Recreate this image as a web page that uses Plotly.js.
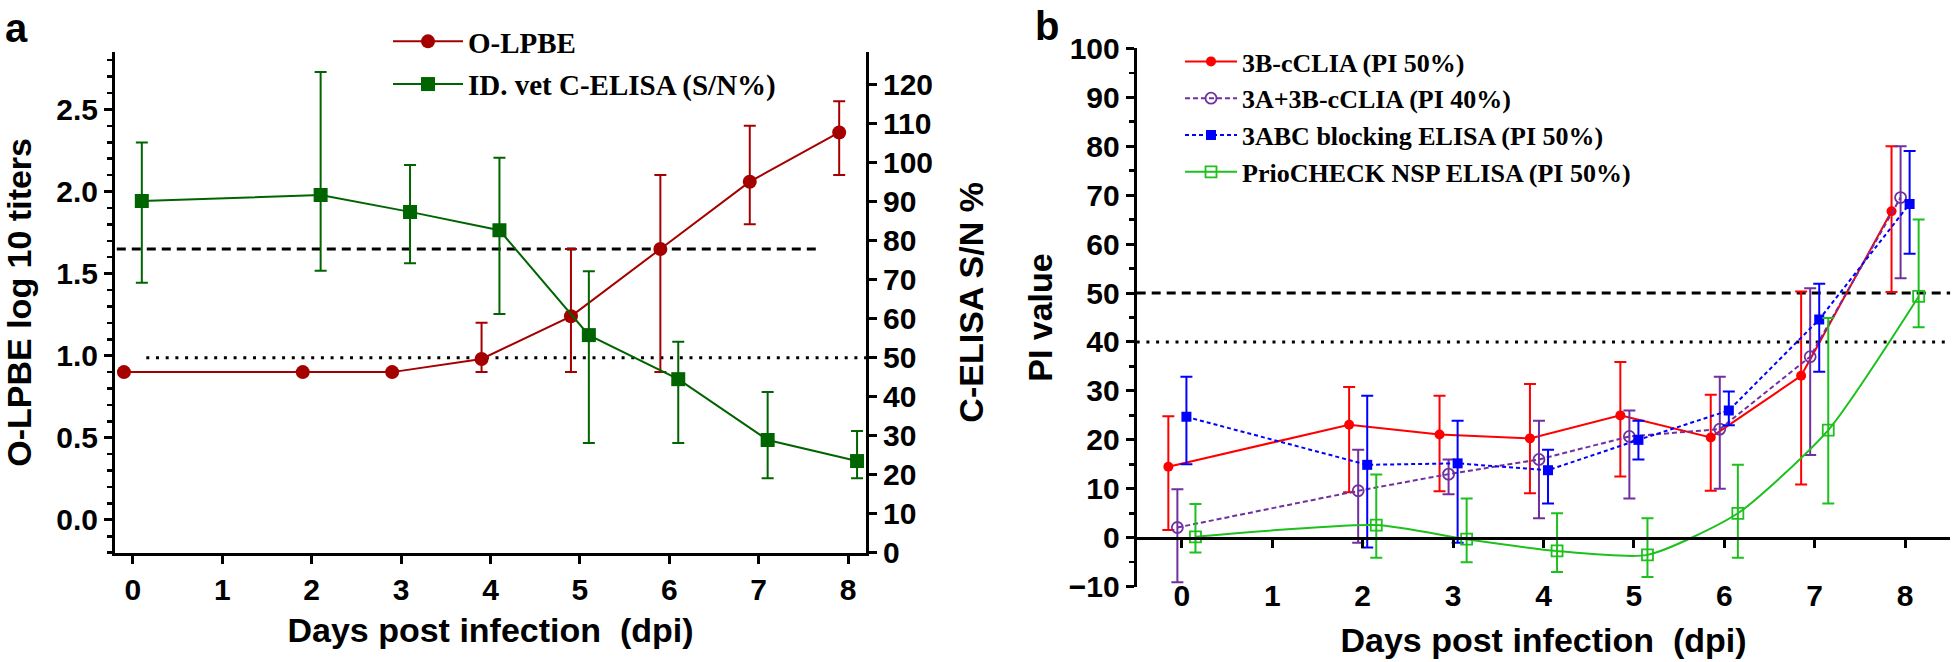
<!DOCTYPE html>
<html>
<head>
<meta charset="utf-8">
<script src="https://cdn.plot.ly/plotly-3.0.1.min.js"></script>
<style>html,body{margin:0;padding:0;background:#fff;}#chart{width:1960px;height:662px;}</style>
</head>
<body>
<div id="chart"></div>
<script>
// ---------- Data: panel a ----------
const daysA = [0, 2, 3, 4, 5, 6, 7, 8];
const lpbeMean = [0.90, 0.90, 0.90, 0.98, 1.24, 1.65, 2.06, 2.36];
const lpbeHigh = [0.90, 0.90, 0.90, 1.20, 1.65, 2.10, 2.40, 2.55];
const lpbeLow  = [0.90, 0.90, 0.90, 0.90, 0.90, 0.90, 1.80, 2.10];
const elisaMean = [90.2, 91.7, 87.4, 82.7, 55.8, 44.5, 28.9, 23.5];
const elisaHigh = [105.2, 123.3, 99.4, 101.3, 72.2, 54.1, 41.2, 31.2];
const elisaLow  = [69.2, 72.3, 74.2, 61.2, 28.1, 28.1, 19.1, 19.1];
const lpbeCutoff = 1.65;     // dashed, left axis
const elisaCutoff = 50;      // dotted, right axis
const seriesNamesA = ["O-LPBE", "ID. vet C-ELISA (S/N%)"];

// ---------- Data: panel b ----------
const daysB = [0, 2, 3, 4, 5, 6, 7, 8];
const seriesNamesB = ["3B-cCLIA (PI 50%)", "3A+3B-cCLIA (PI 40%)", "3ABC blocking ELISA (PI 50%)", "PrioCHECK NSP ELISA (PI 50%)"];
const clia3BMean = [14.5, 23.1, 21.1, 20.3, 25.0, 20.5, 33.1, 66.7];
const clia3BHigh = [24.8, 30.8, 29.0, 31.4, 35.9, 29.2, 50.3, 80.0];
const clia3BLow  = [1.6, 9.3, 9.5, 9.1, 12.5, 9.6, 10.9, 50.2];
const clia3ABMean = [2.1, 9.6, 13.0, 16.0, 20.7, 22.2, 37.0, 69.5];
const clia3ABHigh = [9.9, 18.0, 16.0, 23.9, 26.0, 32.9, 51.0, 80.0];
const clia3ABLow  = [-9.1, -1.0, 8.9, 4.0, 8.0, 10.0, 16.9, 53.0];
const abcMean = [24.7, 14.9, 15.2, 13.8, 20.0, 26.0, 44.6, 68.2];
const abcHigh = [32.9, 29.0, 23.9, 18.0, 23.9, 29.9, 51.9, 79.0];
const abcLow  = [15.0, -2.0, -1.0, 7.0, 16.0, 23.0, 33.9, 58.0];
const prioMean = [0.2, 2.6, -0.3, -2.7, -3.5, 5.0, 22.0, 49.3];
const prioHigh = [6.9, 12.9, 8.0, 5.0, 4.0, 14.9, 44.9, 65.0];
const prioLow  = [-3.0, -4.1, -5.0, -7.0, -8.0, -4.1, 7.0, 43.0];
const piCutoff50 = 50;
const piCutoff40 = 40;
const xTickVals = [0, 1, 2, 3, 4, 5, 6, 7, 8];

// ---------- helpers ----------
const W = 1960, H = 662;
const px = v => v / W;
const py = v => 1 - v / H;
const shift = (arr, d) => arr.map(v => v + d);
const plus = (hi, m) => hi.map((v, i) => +(v - m[i]).toFixed(3));
const minus = (lo, m) => lo.map((v, i) => +(m[i] - v).toFixed(3));
const SANS = "Liberation Sans, Arial, sans-serif";
const SERIF = "Liberation Serif, Times New Roman, serif";
const tickFont = {family: SANS, size: 30, color: "#000", weight: "bold"};
const titleFont = {family: SANS, size: 34, color: "#000", weight: "bold"};

function errTrace(name, x, m, hi, lo, color, opts) {
  return Object.assign({
    type: "scatter", mode: "lines+markers", name: name, x: x, y: m,
    line: {color: color, width: 2},
    error_y: {type: "data", symmetric: false, array: plus(hi, m), arrayminus: minus(lo, m),
              color: color, thickness: 2, width: 6},
  }, opts);
}

const RED_A = "#A50000", GREEN_A = "#006400";
const RED_B = "#FF0000", PURPLE_B = "#7030A0", BLUE_B = "#0000FF", GREEN_B = "#1DC01D";

const traces = [
  errTrace(seriesNamesA[0], shift(daysA, -0.1), lpbeMean, lpbeHigh, lpbeLow, RED_A,
    {xaxis: "x", yaxis: "y", marker: {symbol: "circle", size: 14, color: RED_A}, legend: "legend", legendgroup: "a1"}),
  errTrace(seriesNamesA[1], shift(daysA, 0.1), elisaMean, elisaHigh, elisaLow, GREEN_A,
    {xaxis: "x", yaxis: "y2", marker: {symbol: "square", size: 14, color: GREEN_A}, legend: "legend", legendgroup: "a2"}),
  errTrace(seriesNamesB[0], shift(daysB, -0.15), clia3BMean, clia3BHigh, clia3BLow, RED_B,
    {xaxis: "x2", yaxis: "y3", marker: {symbol: "circle", size: 10, color: RED_B}, legend: "legend2", legendgroup: "b1"}),
  errTrace(seriesNamesB[1], shift(daysB, -0.05), clia3ABMean, clia3ABHigh, clia3ABLow, PURPLE_B,
    {xaxis: "x2", yaxis: "y3", marker: {symbol: "circle-open", size: 11, color: PURPLE_B, line: {width: 1.8}},
     line: {color: PURPLE_B, width: 2, dash: "5px,3px"}, legend: "legend2", legendgroup: "b2"}),
  errTrace(seriesNamesB[2], shift(daysB, 0.05), abcMean, abcHigh, abcLow, BLUE_B,
    {xaxis: "x2", yaxis: "y3", marker: {symbol: "square", size: 10, color: BLUE_B},
     line: {color: BLUE_B, width: 2, dash: "4px,3px"}, legend: "legend2", legendgroup: "b3"}),
  errTrace(seriesNamesB[3], shift(daysB, 0.15), prioMean, prioHigh, prioLow, GREEN_B,
    {xaxis: "x2", yaxis: "y3", marker: {symbol: "square-open", size: 11, color: GREEN_B, line: {width: 1.8}},
     line: {color: GREEN_B, width: 2, shape: "spline", smoothing: 0.6}, legend: "legend2", legendgroup: "b4"}),
];

const axisBase = {showline: true, linecolor: "#000", linewidth: 3, ticks: "outside", ticklen: 8, tickwidth: 3,
  tickcolor: "#000", showgrid: false, zeroline: false, tickfont: tickFont, automargin: false, fixedrange: true};

const layout = {
  width: W, height: H, autosize: false,
  margin: {l: 0, r: 0, t: 0, b: 0},
  paper_bgcolor: "#fff", plot_bgcolor: "#fff",
  showlegend: true,
  xaxis: Object.assign({}, axisBase, {
    domain: [px(115), px(866)], range: [-0.2, 8.2], anchor: "y", tickvals: xTickVals,
    title: {text: "Days post infection \u00a0(dpi)", font: titleFont, standoff: 14}
  }),
  yaxis: Object.assign({}, axisBase, {
    domain: [py(552.7), py(52)], range: [-0.2, 2.85], anchor: "x",
    tickvals: [0, 0.5, 1.0, 1.5, 2.0, 2.5], ticktext: ["0.0", "0.5", "1.0", "1.5", "2.0", "2.5"],
    minor: {dtick: 0.1, tick0: 0, ticklen: 5, tickwidth: 2.5, ticks: "outside", tickcolor: "#000", showgrid: false},
    title: {text: "O-LPBE log 10 titers", font: titleFont, standoff: 18}
  }),
  yaxis2: Object.assign({}, axisBase, {
    overlaying: "y", side: "right", anchor: "x", range: [0, 128.4],
    tickvals: [0, 10, 20, 30, 40, 50, 60, 70, 80, 90, 100, 110, 120],
    title: {text: "C-ELISA S/N %", font: titleFont, standoff: 28}
  }),
  xaxis2: Object.assign({}, axisBase, {
    domain: [px(1136.7), px(1950.3)], range: [-0.5, 8.5], anchor: "free", position: py(537.7),
    tickvals: xTickVals, ticklabelstandoff: 22,
    title: {text: "Days post infection \u00a0(dpi)", font: titleFont, standoff: 17}
  }),
  yaxis3: Object.assign({}, axisBase, {
    domain: [py(586.7), py(48.3)], range: [-10, 100], anchor: "x2",
    tickvals: [-10, 0, 10, 20, 30, 40, 50, 60, 70, 80, 90, 100],
    minor: {dtick: 5, tick0: 0, ticklen: 5, tickwidth: 2.5, ticks: "outside", tickcolor: "#000", showgrid: false},
    title: {text: "PI value", font: titleFont, standoff: 6}
  }),
  legend: {
    x: px(388), y: py(16), xanchor: "left", yanchor: "top",
    font: {family: SERIF, size: 29, color: "#000", weight: "bold"},
    bgcolor: "rgba(0,0,0,0)", itemwidth: 70, traceorder: "grouped", tracegroupgap: 2
  },
  legend2: {
    x: px(1180), y: py(38), xanchor: "left", yanchor: "top",
    font: {family: SERIF, size: 26, color: "#000", weight: "bold"},
    bgcolor: "rgba(0,0,0,0)", itemwidth: 52, traceorder: "grouped", tracegroupgap: 0
  },
  shapes: [
    {type: "line", xref: "x", yref: "y", x0: -0.18, x1: 7.7, y0: lpbeCutoff, y1: lpbeCutoff,
     line: {color: "#000", width: 3, dash: "9px,6px"}, layer: "below"},
    {type: "line", xref: "x", yref: "y2", x0: 0.15, x1: 8.2, y0: elisaCutoff, y1: elisaCutoff,
     line: {color: "#000", width: 3, dash: "3px,6.7px"}, layer: "below"},
    {type: "line", xref: "x2", yref: "y3", x0: -0.5, x1: 8.5, y0: piCutoff50, y1: piCutoff50,
     line: {color: "#000", width: 3, dash: "9px,6px"}, layer: "below"},
    {type: "line", xref: "x2", yref: "y3", x0: -0.5, x1: 8.5, y0: piCutoff40, y1: piCutoff40,
     line: {color: "#000", width: 3, dash: "3px,6.7px"}, layer: "below"}
  ],
  annotations: [
    {text: "a", xref: "paper", yref: "paper", x: px(3), y: py(4), xanchor: "left", yanchor: "top",
     showarrow: false, font: {family: SANS, size: 40, color: "#000", weight: "bold"}},
    {text: "b", xref: "paper", yref: "paper", x: px(1033), y: py(2), xanchor: "left", yanchor: "top",
     showarrow: false, font: {family: SANS, size: 40, color: "#000", weight: "bold"}}
  ]
};

Plotly.newPlot("chart", traces, layout, {staticPlot: true, displayModeBar: false});
</script>
</body>
</html>
